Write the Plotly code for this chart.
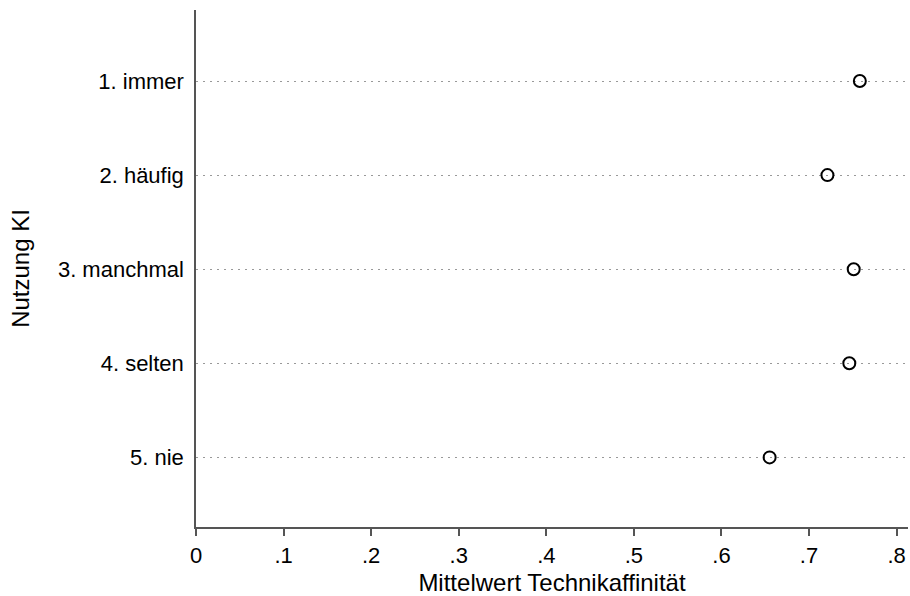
import plotly.graph_objects as go

categories = ["1. immer", "2. häufig", "3. manchmal", "4. selten", "5. nie"]
means = [0.758, 0.721, 0.751, 0.746, 0.655]
x_ticks = [0, 0.1, 0.2, 0.3, 0.4, 0.5, 0.6, 0.7, 0.8]
x_tick_labels = ["0", ".1", ".2", ".3", ".4", ".5", ".6", ".7", ".8"]

ypos = list(range(1, len(categories) + 1))

fig = go.Figure()
fig.add_trace(go.Scatter(
    x=means, y=ypos, mode="markers",
    marker=dict(symbol="circle-open", size=12, color="black", line=dict(width=2, color="black")),
    showlegend=False,
))

font = "Liberation Sans, Arial, sans-serif"
fig.update_layout(
    width=910, height=596,
    margin=dict(l=196, r=2, t=10, b=69),
    paper_bgcolor="white", plot_bgcolor="white",
    font=dict(family=font, size=22, color="black"),
    xaxis=dict(
        range=[0, 0.813], tickvals=x_ticks, ticktext=x_tick_labels,
        showgrid=False, zeroline=False,
        showline=True, linecolor="#555555", linewidth=1.5,
        ticks="outside", ticklen=7, tickwidth=1.5, tickcolor="#555555",
        ticklabelstandoff=1,
        tickfont=dict(size=22),
        title=dict(text="Mittelwert Technikaffinität", font=dict(size=24), standoff=7),
    ),
    yaxis=dict(
        range=[5.74, 0.245], tickvals=ypos, ticktext=categories,
        showgrid=True, gridcolor="#999999", gridwidth=1.2, griddash="1.5px,5.5px",
        zeroline=False,
        showline=True, linecolor="#555555", linewidth=1.5,
        ticks="", ticklabelstandoff=6,
        tickfont=dict(size=22),
        title=dict(text="Nutzung KI", font=dict(size=24), standoff=21),
    ),
)

fig.write_html("out.html", config={"displayModeBar": False},
               post_script="document.body.style.margin='0';document.body.style.overflow='hidden';")
